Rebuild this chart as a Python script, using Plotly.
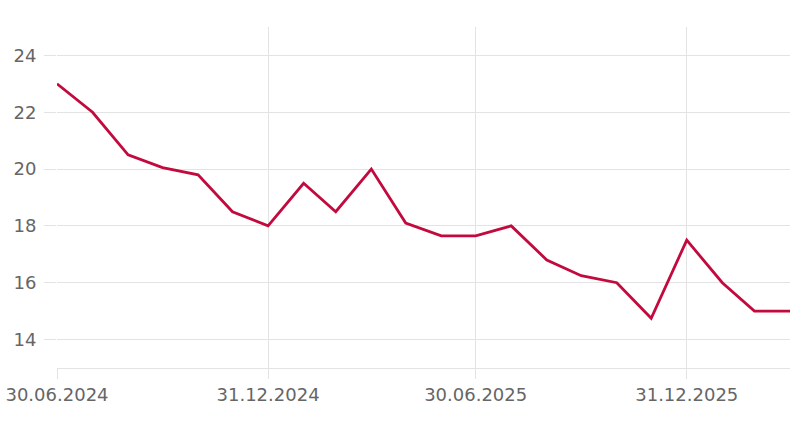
import plotly.graph_objects as go

dates = ["2024-06-30", "2024-07-31", "2024-08-31", "2024-09-30", "2024-10-31", "2024-11-30",
         "2024-12-31", "2025-01-31", "2025-02-28", "2025-03-31", "2025-04-30", "2025-05-31",
         "2025-06-30", "2025-07-31", "2025-08-31", "2025-09-30", "2025-10-31", "2025-11-30",
         "2025-12-31", "2026-01-31", "2026-02-28", "2026-03-31"]
values = [23.0, 22.0, 20.5, 20.05, 19.8, 18.5,
          18.0, 19.5, 18.5, 20.0, 18.1, 17.65,
          17.65, 18.0, 16.8, 16.25, 16.0, 14.75,
          17.5, 16.0, 15.0, 15.0]
tick_dates = ["2024-06-30", "2024-12-31", "2025-06-30", "2025-12-31"]
tick_labels = ["30.06.2024", "31.12.2024", "30.06.2025", "31.12.2025"]
y_ticks = [14, 16, 18, 20, 22, 24]

grid = "#e3e3e3"
font_color = "#666666"

fig = go.Figure(go.Scatter(
    x=dates, y=values, mode="lines",
    line=dict(color="#c20a3e", width=2.8),
    hoverinfo="skip",
))

fig.update_layout(
    width=796, height=421,
    margin=dict(l=57, r=6, t=27, b=53),
    paper_bgcolor="white", plot_bgcolor="white",
    showlegend=False,
    font=dict(family="DejaVu Sans, sans-serif", size=18, color=font_color),
)
fig.update_xaxes(
    range=["2024-06-30", "2026-03-31"],
    tickvals=tick_dates, ticktext=tick_labels,
    showgrid=True, gridcolor=grid, gridwidth=1,
    ticks="outside", ticklen=10, tickcolor=grid,
    showline=True, linecolor=grid, linewidth=1,
    zeroline=False, automargin=False,
)
fig.update_yaxes(
    range=[13, 25],
    tickvals=y_ticks,
    showgrid=True, gridcolor=grid, gridwidth=1,
    ticks="outside", ticklen=12, tickcolor=grid,
    ticklabelstandoff=4,
    showline=False, zeroline=False, automargin=False,
)

fig.write_html("out.html", config={"displayModeBar": False},
               post_script="document.body.style.margin='0';document.body.style.overflow='hidden';")
